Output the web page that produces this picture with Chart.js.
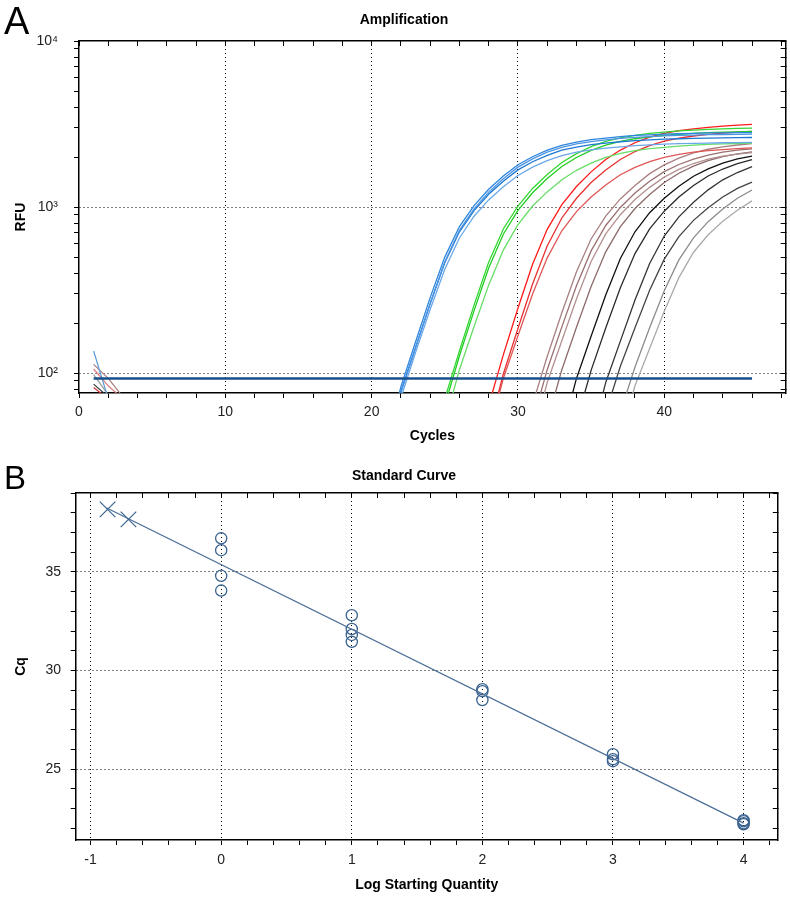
<!DOCTYPE html>
<html>
<head>
<meta charset="utf-8">
<script src="https://cdn.jsdelivr.net/npm/chart.js@4.4.1/dist/chart.umd.min.js"></script>
<style>
  html, body { margin: 0; padding: 0; background: #fff; overflow: hidden; }
  #wrap { position: relative; width: 790px; height: 899px; }
  canvas { position: absolute; left: 0; }
  #ampChart { top: 0; }
  #stdChart { top: 450px; }
  .panel { position: absolute; font-family: 'Liberation Sans', Arial, sans-serif; line-height: 1; color: #000; }
  #labA { left: 4px; top: 2px; font-size: 38px; }
  #labB { left: 4px; top: 461px; font-size: 33px; }
</style>
</head>
<body>
<div id="wrap">
  <canvas id="ampChart" width="790" height="450"></canvas>
  <canvas id="stdChart" width="790" height="449"></canvas>
  <div class="panel" id="labA">A</div>
  <div class="panel" id="labB">B</div>
</div>
<script>
// ---------- A: amplification ----------
const cycleTicks = [0, 2, 4, 6, 8, 10, 12, 14, 16, 18, 20, 22, 24, 26, 28, 30, 32, 34, 36, 38, 40, 42, 44, 46, 48];
const cycleLabels = [0, 10, 20, 30, 40];
const rfuTicks = [80, 90, 100, 200, 300, 400, 500, 600, 700, 800, 900, 1000, 2000, 3000, 4000, 5000, 6000, 7000, 8000, 9000, 10000];
const rfuLabels = {100: '10²', 1000: '10³', 10000: '10⁴'};
const threshold = 93;

// RFU readings, listed from the cycle given in the curves table below
const blue1 = [35, 83, 154, 285, 500, 764, 1020, 1280, 1540, 1800, 2010, 2200, 2355, 2465, 2545, 2605, 2655, 2700, 2725, 2750, 2765, 2780, 2795, 2800, 2805, 2810];
const blue2 = [31, 76, 141, 263, 468, 724, 977, 1230, 1480, 1740, 1950, 2140, 2290, 2400, 2480, 2540, 2590, 2630, 2660, 2685, 2705, 2715, 2730, 2735, 2740, 2750];
const blue3 = [32, 78, 143, 262, 462, 710, 953, 1195, 1430, 1675, 1875, 2050, 2200, 2295, 2375, 2430, 2475, 2510, 2540, 2565, 2580, 2595, 2605, 2610, 2620, 2625];
const blue4 = [71, 133, 242, 423, 652, 881, 1105, 1325, 1550, 1740, 1905, 2040, 2140, 2210, 2265, 2305, 2345, 2370, 2395, 2410, 2420, 2430, 2440, 2445, 2450];
const green1 = [70, 136, 257, 465, 738, 1015, 1295, 1570, 1855, 2100, 2310, 2485, 2610, 2705, 2775, 2825, 2875, 2910, 2940, 2960, 2980, 2990];
const green2 = [64, 127, 238, 430, 687, 955, 1220, 1485, 1755, 1990, 2195, 2360, 2485, 2580, 2650, 2700, 2745, 2780, 2805, 2825, 2840, 2855];
const green3 = [50, 105, 191, 339, 551, 785, 1015, 1235, 1460, 1665, 1840, 1990, 2105, 2185, 2250, 2290, 2330, 2360, 2385, 2405, 2415, 2430];
const red1 = [64, 129, 246, 453, 735, 1035, 1330, 1630, 1935, 2205, 2440, 2635, 2775, 2885, 2960, 3020, 3075, 3115, 3145];
const red2 = [45, 99, 186, 344, 583, 860, 1130, 1405, 1675, 1935, 2160, 2345, 2495, 2600, 2680, 2740, 2790, 2830, 2860];
const red3 = [43, 93, 168, 300, 495, 720, 940, 1150, 1360, 1565, 1735, 1880, 1995, 2075, 2140, 2185, 2220, 2250, 2275];
const brown1 = [65, 126, 231, 408, 643, 883, 1120, 1350, 1590, 1795, 1970, 2120, 2230, 2305, 2365, 2410];
const brown2 = [51, 105, 190, 336, 545, 775, 995, 1215, 1430, 1635, 1805, 1945, 2055, 2140, 2200, 2240];
const brown3 = [40, 88, 157, 280, 470, 690, 900, 1110, 1315, 1515, 1685, 1830, 1945, 2025, 2085, 2130];
const brown4 = [51, 105, 189, 333, 538, 762, 980, 1190, 1405, 1600, 1765, 1905, 2015, 2090, 2150];
const black1 = [43, 93, 167, 296, 490, 710, 925, 1130, 1335, 1535, 1700, 1840, 1950, 2030];
const black2 = [51, 104, 187, 327, 525, 740, 945, 1150, 1350, 1540, 1695, 1825, 1930];
const black3 = [40, 88, 156, 276, 458, 670, 873, 1070, 1270, 1460, 1615, 1755];
const black4 = [58, 110, 188, 316, 486, 664, 832, 990, 1150, 1295, 1415];
const grey1 = [58, 109, 188, 314, 481, 653, 817, 973, 1130, 1268];
const grey2 = [41, 84, 141, 236, 376, 535, 682, 822, 957, 1090];

// first cycles (1, 2, 3) before the signal drops under the axis
const earlyRfu = [[136, 70], [113, 93, 72], [106, 84, 70], [98, 74], [86, 72], [82, 70]];
const earlyColors = ['#5b9bd5', '#a87c7c', '#e07a7a', '#9a9a9a', '#333333', '#dd3333'];

const curves = [
  [blue1, 21, '#2e86de'], [blue2, 21, '#4b95e3'], [blue3, 21, '#1f78d1'], [blue4, 22, '#6aa8ea'],
  [green1, 25, '#33d633'], [green2, 25, '#22cc22'], [green3, 25, '#66dd66'],
  [red1, 28, '#ff1a1a'], [red2, 28, '#e83030'], [red3, 28, '#e05555'],
  [brown1, 31, '#a88080'], [brown2, 31, '#9a7070'], [brown3, 31, '#b39090'], [brown4, 32, '#8c6a6a'],
  [black1, 33, '#111111'], [black2, 34, '#2a2a2a'], [black3, 35, '#333333'], [black4, 36, '#444444'],
  [grey1, 37, '#8c8c8c'], [grey2, 37, '#aaaaaa']
];

// ---------- B: standard curve ----------
const logTicks = [-1, -0.8, -0.6, -0.4, -0.2, 0, 0.2, 0.4, 0.6, 0.8, 1, 1.2, 1.4, 1.6, 1.8, 2, 2.2, 2.4, 2.6, 2.8, 3, 3.2, 3.4, 3.6, 3.8, 4, 4.2];
const logLabels = [-1, 0, 1, 2, 3, 4];
const cqTicks = [22, 23, 24, 25, 26, 27, 28, 29, 30, 31, 32, 33, 34, 35, 36, 37, 38, 39];
const cqLabels = [25, 30, 35];

const stdLog = [0, 0, 0, 0, 1, 1, 1, 1, 2, 2, 2, 3, 3, 3, 4, 4, 4, 4];
const stdCq = [36.7, 36.1, 34.8, 34.05, 32.8, 32.1, 31.8, 31.45, 29.05, 28.95, 28.5, 25.75, 25.5, 25.4, 22.4, 22.35, 22.25, 22.2];
const unkLog = [-0.87, -0.71];
const unkCq = [38.17, 37.66];
const fitLog = [-0.88, 4.0];
const fitCq = [38.25, 22.26];

Chart.defaults.font.family = "'Liberation Sans', Arial, sans-serif";
Chart.defaults.color = '#222';

function gridColor(majors, skip) {
  return c => (c.tick && majors.includes(c.tick.value) && !skip.includes(c.tick.value)) ? '#000' : 'rgba(0,0,0,0)';
}

function mainAxis(opts) {
  return {
    type: opts.type, position: opts.position, min: opts.min, max: opts.max,
    afterBuildTicks: s => { s.ticks = opts.ticks.map(v => ({value: v})); },
    afterFit: s => { if (opts.position === 'bottom') s.height = opts.size; else s.width = opts.size; },
    ticks: {autoSkip: false, maxRotation: 0, padding: opts.pad, color: '#222', font: {size: 14}, callback: opts.label},
    grid: {color: gridColor(opts.majors, opts.skip), lineWidth: 1, tickLength: 5, tickColor: '#000', tickWidth: 1},
    border: {display: true, color: '#000', width: 1.5, dash: [1, 3]},
    title: {display: true, text: opts.title, color: '#000', font: {size: 14, weight: 'bold'}, padding: opts.titlePad}
  };
}

function frameAxis(type, position, min, max, ticks, size) {
  return {
    type, position, min, max,
    afterBuildTicks: s => { s.ticks = ticks.map(v => ({value: v})); },
    afterFit: s => { if (position === 'top') s.height = 0; else s.width = size; },
    ticks: {display: false},
    grid: {drawOnChartArea: false, drawTicks: true, tickLength: -5, tickColor: '#000', tickWidth: 1},
    border: {display: true, color: '#000', width: 1.5}
  };
}

const ampSets = [{
  data: [{x: 1, y: threshold}, {x: 46, y: threshold}],
  borderColor: '#174f8c', borderWidth: 2.5, pointRadius: 0
}];
curves.forEach(([rfu, start, color]) => {
  ampSets.push({
    data: rfu.map((v, i) => ({x: start + i, y: v})),
    borderColor: color, borderWidth: 1.3, pointRadius: 0
  });
});
earlyRfu.forEach((rfu, k) => {
  ampSets.push({
    data: rfu.map((v, i) => ({x: 1 + i, y: v})),
    borderColor: earlyColors[k], borderWidth: 1.2, pointRadius: 0
  });
});

new Chart(document.getElementById('ampChart'), {
  type: 'line',
  data: {datasets: ampSets},
  options: {
    responsive: false, animation: false, devicePixelRatio: 1,
    layout: {padding: {left: 18, right: 0, top: 0, bottom: 0}},
    plugins: {
      legend: {display: false}, tooltip: {enabled: false},
      title: {display: true, text: 'Amplification', color: '#000', font: {size: 14, weight: 'bold'}, padding: {top: 11.8, bottom: 12.4}}
    },
    scales: {
      x: mainAxis({type: 'linear', position: 'bottom', min: 0, max: 48.3, ticks: cycleTicks, size: 57, pad: 6,
        majors: cycleLabels, skip: [0], label: v => cycleLabels.includes(v) ? String(v) : '',
        title: 'Cycles', titlePad: {top: 0, bottom: 5.6}}),
      y: mainAxis({type: 'logarithmic', position: 'left', min: 76, max: 10000, ticks: rfuTicks, size: 61, pad: 16,
        majors: [100, 1000, 10000], skip: [10000], label: v => rfuLabels[v] || '',
        title: 'RFU', titlePad: {top: -5.4, bottom: 0}}),
      xTop: frameAxis('linear', 'top', 0, 48.3, cycleTicks, 0),
      yRight: frameAxis('logarithmic', 'right', 76, 10000, rfuTicks, 4.3)
    }
  }
});

const markColor = '#3a6390';
new Chart(document.getElementById('stdChart'), {
  type: 'scatter',
  data: {
    datasets: [
      {type: 'line', data: fitLog.map((v, i) => ({x: v, y: fitCq[i]})), borderColor: '#4d7098', borderWidth: 1.3, pointRadius: 0},
      {data: stdLog.map((v, i) => ({x: v, y: stdCq[i]})), pointStyle: 'circle', pointRadius: 5.6,
        borderColor: markColor, backgroundColor: 'rgba(0,0,0,0)', pointBorderWidth: 1.3},
      {data: unkLog.map((v, i) => ({x: v, y: unkCq[i]})), pointStyle: 'crossRot', pointRadius: 11,
        borderColor: markColor, pointBorderWidth: 1.2}
    ]
  },
  options: {
    responsive: false, animation: false, devicePixelRatio: 1,
    layout: {padding: {left: 18, right: 0, top: 0, bottom: 0}},
    plugins: {
      legend: {display: false}, tooltip: {enabled: false},
      title: {display: true, text: 'Standard Curve', color: '#000', font: {size: 14, weight: 'bold'}, padding: {top: 17.6, bottom: 8.6}}
    },
    scales: {
      x: mainAxis({type: 'linear', position: 'bottom', min: -1.114, max: 4.262, ticks: logTicks, size: 59, pad: 6.6,
        majors: logLabels, skip: [], label: v => logLabels.includes(v) ? String(v) : '',
        title: 'Log Starting Quantity', titlePad: {top: 0, bottom: 5.6}}),
      y: mainAxis({type: 'linear', position: 'left', min: 21.4, max: 39.0, ticks: cqTicks, size: 57.7, pad: 9.7,
        majors: cqLabels, skip: [], label: v => cqLabels.includes(v) ? String(v) : '',
        title: 'Cq', titlePad: {top: -5.4, bottom: 0}}),
      xTop: frameAxis('linear', 'top', -1.114, 4.262, logTicks, 0),
      yRight: frameAxis('linear', 'right', 21.4, 39.0, cqTicks, 8.3)
    }
  }
});
</script>
</body>
</html>
